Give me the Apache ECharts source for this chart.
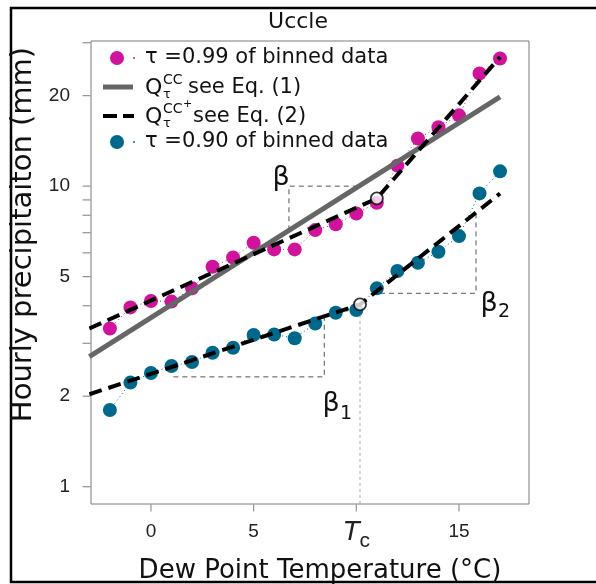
<!DOCTYPE html>
<html><head><meta charset="utf-8">
<script src="https://cdn.jsdelivr.net/npm/echarts@6/dist/echarts.min.js"></script>
<style>html,body{margin:0;padding:0;background:#fff}#c{width:596px;height:584px}</style>
</head><body><div id="c"></div>
<script>
// ---- data ----
const temps = [-2,-1,0,1,2,3,4,5,6,7,8,9,10,11,12,13,14,15,16,17];
const q99 = [3.36,3.95,4.15,4.13,4.57,5.39,5.79,6.48,6.16,6.16,7.14,7.47,8.11,8.80,11.7,14.4,15.7,17.2,23.7,26.6];
const q90 = [1.80,2.22,2.39,2.52,2.60,2.79,2.90,3.20,3.21,3.12,3.49,3.79,3.87,4.57,5.22,5.56,6.05,6.82,9.46,11.2];
const ccX = [-3, 17];
const ccY = [2.71, 19.8];
const ccPlus99X = [-3, 11.0, 17];
const ccPlus99Y = [3.36, 9.10, 26.9];
const ccPlus90X = [-3, 10.18, 17];
const ccPlus90Y = [2.03, 4.04, 9.45];
const breakX = [11.0, 10.18];
const breakY = [9.10, 4.04];
const betaX = [6.72, 6.72, 10.12];
const betaY = [7.13, 10, 10];
const beta1X = [1.09, 8.44, 8.44];
const beta1Y = [2.32, 2.32, 3.62];
const beta2X = [11.15, 15.83, 15.83];
const beta2Y = [4.40, 4.40, 8.01];
const tcX = [10.18, 10.18];
const tcY = [0.8, 4.04];
const xRange = [-2.92, 18.41];
const yRange = [0.876, 30.4];
const xTickValues = [0, 5, 10, 15];
const yTickValues = [1,2,3,4,5,6,7,8,9,10,20,30];
const yLabelValues = [1, 2, 5, 10, 20];

// y axis is logarithmic: values are placed on a log10 value axis
const L = Math.log10;
const zip = (xs, ys) => xs.map((x, i) => [x, L(ys[i])]);
const MAG = '#cf139a', TEAL = '#00688b';
const SANS = 'DejaVu Sans', ARIAL = 'Liberation Sans';

const annoStyle = {color: '#555', width: 1, type: [5, 4]};
function anno(name, xs, ys, style) {
  return {name, type: 'line', data: zip(xs, ys), symbol: 'none', lineStyle: style || annoStyle, silent: true, z: 1};
}
const T = (text, x, y, size, extra) => Object.assign({type: 'text', silent: true,
  style: Object.assign({text, x, y, font: size + 'px "DejaVu Sans"', fill: '#111', verticalAlign: 'middle', textVerticalAlign: 'middle'}, extra || {})});
const C = {align: 'center', textAlign: 'center'};

const chart = echarts.init(document.getElementById('c'), null, {renderer: 'canvas'});
chart.setOption({
  animation: false,
  backgroundColor: '#fff',
  title: {text: 'Uccle', left: 'center', top: 6, textStyle: {fontFamily: SANS, fontSize: 22, fontWeight: 'normal', color: '#111'}},
  grid: {left: 91, top: 41, width: 438, height: 463, show: true, borderColor: '#7a7a7a', borderWidth: 1,
         containLabel: false, outerBoundsMode: 'none'},
  xAxis: {
    type: 'value', min: xRange[0], max: xRange[1],
    name: 'Dew Point Temperature (°C)', nameLocation: 'middle', nameGap: 54,
    nameTextStyle: {fontFamily: SANS, fontSize: 26, color: '#111', padding: [0, 0, 0, 20]},
    axisLine: {show: false},
    axisTick: {show: false},
    axisLabel: {
      customValues: xTickValues, margin: 18, color: '#222', fontFamily: ARIAL, fontSize: 19,
      formatter: v => v === 10 ? '{t|T}{c|c}' : String(v),
      rich: {t: {fontStyle: 'italic', fontSize: 28, lineHeight: 20, fontFamily: ARIAL, color: '#222'},
             c: {fontSize: 21, lineHeight: 2, fontFamily: ARIAL, color: '#222', padding: [18, 0, 0, 0]}}
    },
    splitLine: {show: false}
  },
  yAxis: {
    type: 'value', min: L(yRange[0]), max: L(yRange[1]),
    name: 'Hourly precipitaiton (mm)', nameLocation: 'middle', nameGap: 47,
    nameTextStyle: {fontFamily: SANS, fontSize: 29, color: '#111', padding: [0, 0, 0, 76]},
    axisLine: {show: false},
    axisTick: {show: false},
    axisLabel: {customValues: yLabelValues.map(L), margin: 21, color: '#222', fontFamily: ARIAL, fontSize: 19,
      formatter: v => String(Math.round(Math.pow(10, v)))},
    splitLine: {show: false}
  },
  series: [
    anno('beta', betaX, betaY),
    anno('beta1', beta1X, beta1Y),
    anno('beta2', beta2X, beta2Y),
    anno('Tc', tcX, tcY, {color: '#aaa', width: 1, type: [3, 3]}),
    {name: 'τ =0.99 of binned data', type: 'line', data: zip(temps, q99), symbol: 'circle', symbolSize: 14,
     itemStyle: {color: MAG}, lineStyle: {color: MAG, width: 1, type: [1, 3]}, z: 2},
    {name: 'τ =0.90 of binned data', type: 'line', data: zip(temps, q90), symbol: 'circle', symbolSize: 14,
     itemStyle: {color: TEAL}, lineStyle: {color: TEAL, width: 1, type: [1, 3]}, z: 2},
    {name: 'QCC see Eq. (1)', type: 'line', data: zip(ccX, ccY), symbol: 'none',
     lineStyle: {color: '#666', width: 5}, z: 3},
    {name: 'QCC+ see Eq. (2) 0.99', type: 'line', data: zip(ccPlus99X, ccPlus99Y), symbol: 'none',
     lineStyle: {color: '#000', width: 4, type: [13, 7]}, z: 4},
    {name: 'QCC+ see Eq. (2) 0.90', type: 'line', data: zip(ccPlus90X, ccPlus90Y), symbol: 'none',
     lineStyle: {color: '#000', width: 4, type: [13, 7]}, z: 4},
    {name: 'breakpoints', type: 'scatter', data: zip(breakX, breakY), symbol: 'circle', symbolSize: 12,
     itemStyle: {color: '#fff', borderColor: '#000', borderWidth: 1.8}, z: 5},
    // axis tick marks (placed through the axes' scales)
    {name: 'xTicks', type: 'scatter', data: xTickValues.map(v => [v, L(yRange[0])]), symbol: 'rect',
     symbolSize: [1.2, 7], symbolOffset: [0, 4], clip: false, silent: true, itemStyle: {color: '#777'}, z: 6},
    {name: 'yTicks', type: 'scatter', data: yTickValues.map(v => [xRange[0], L(v)]), symbol: 'rect',
     symbolSize: [8, 1.2], symbolOffset: [-4.5, 0], clip: false, silent: true, itemStyle: {color: '#777'}, z: 6}
  ],
  graphic: [
    {type: 'rect', silent: true, shape: {x: 11, y: 8, width: 620, height: 574}, style: {fill: 'none', stroke: '#000', lineWidth: 2.5}},
    // legend
    {type: 'circle', shape: {cx: 117, cy: 58, r: 7}, style: {fill: MAG}},
    {type: 'line', shape: {x1: 133, y1: 58, x2: 135, y2: 58}, style: {stroke: MAG, lineWidth: 1.5}},
    T('τ =0.99 of binned data', 145, 58, 21),
    {type: 'line', shape: {x1: 103, y1: 87, x2: 133, y2: 87}, style: {stroke: '#666', lineWidth: 5}},
    T('Q', 145, 88, 22),
    T('CC', 163, 80, 14),
    T('τ', 163, 95, 13),
    T('see Eq. (1)', 188, 88, 21),
    {type: 'line', shape: {x1: 103, y1: 116, x2: 117, y2: 116}, style: {stroke: '#000', lineWidth: 4}},
    {type: 'line', shape: {x1: 123, y1: 116, x2: 134, y2: 116}, style: {stroke: '#000', lineWidth: 4}},
    T('Q', 145, 117, 22),
    T('CC', 163, 109, 14),
    T('+', 183, 104, 11),
    T('τ', 163, 124, 13),
    T('see Eq. (2)', 193, 117, 21),
    {type: 'circle', shape: {cx: 117, cy: 142, r: 7}, style: {fill: TEAL}},
    {type: 'line', shape: {x1: 133, y1: 142, x2: 135, y2: 142}, style: {stroke: TEAL, lineWidth: 1.5}},
    T('τ =0.90 of binned data', 145, 142, 21),
    // slope labels
    T('β', 281, 178, 27, C),
    T('β', 331, 404, 27, C),
    T('1', 346, 414, 19, C),
    T('β', 489, 304, 27, C),
    T('2', 504, 312, 19, C)
  ]
});
</script></body></html>
